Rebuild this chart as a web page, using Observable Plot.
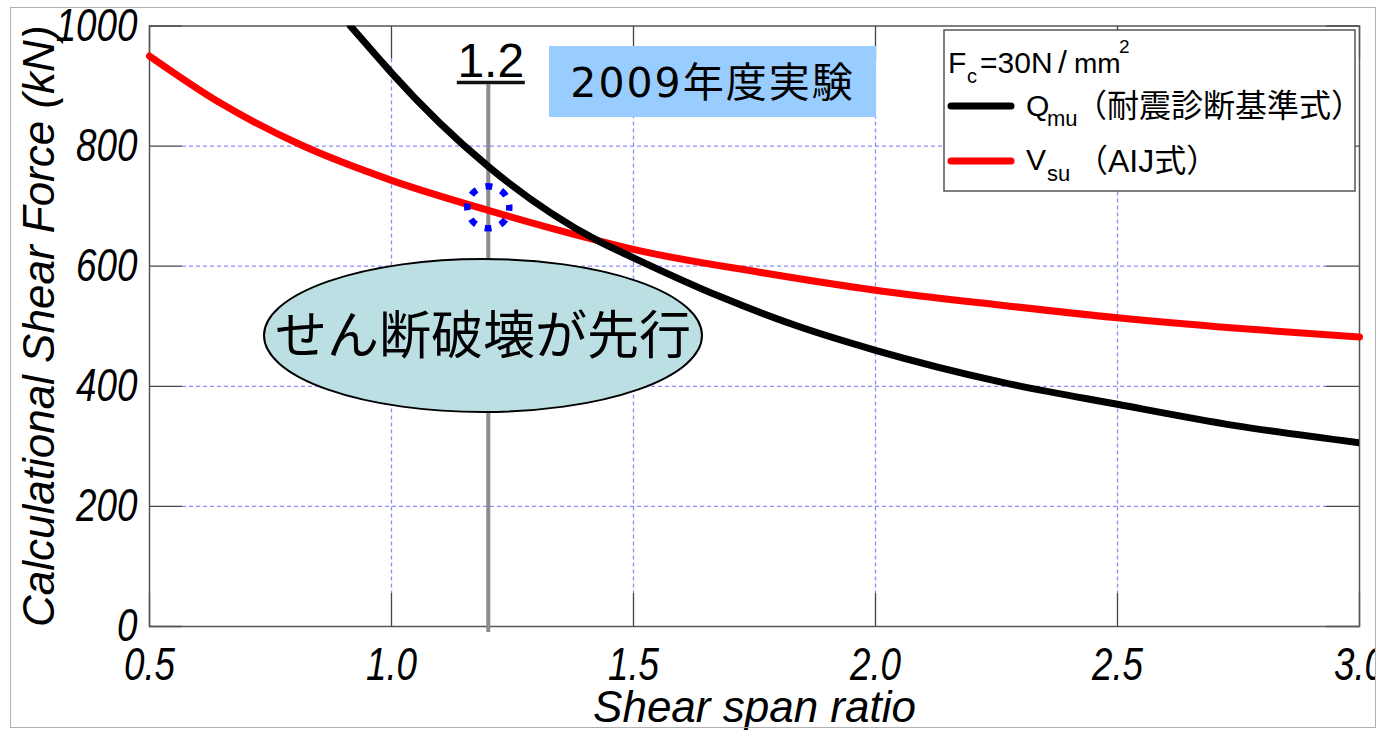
<!DOCTYPE html>
<html><head><meta charset="utf-8">
<script src="https://cdn.jsdelivr.net/npm/d3@7"></script>
<script src="https://cdn.jsdelivr.net/npm/@observablehq/plot@0.6"></script>
<style>
html,body{margin:0;padding:0;background:#fff;}
#wrap{position:relative;width:1384px;height:730px;overflow:hidden;}
</style></head><body><div id="wrap"></div>
<script>
// ---- data ----
const ratioQ = [0.915, 0.977, 1.0, 1.2, 1.425, 1.5, 1.68, 1.84, 2.0, 2.26, 2.5, 2.74, 3.0];
const forceQ = [1000, 943, 922, 766, 643, 614, 549, 500, 460, 407, 370, 335, 306];
const ratioV = [0.5, 0.65, 0.81, 1.0, 1.2, 1.425, 1.5, 1.76, 2.0, 2.26, 2.5, 2.74, 3.0];
const forceV = [950, 870, 803, 743, 693, 643, 628, 590, 560, 535, 514, 497, 482];
const xTicks = [0.5, 1.0, 1.5, 2.0, 2.5, 3.0];
const yTicks = [0, 200, 400, 600, 800, 1000];
const xTitle = "Shear span ratio";
const yTitle = "Calculational Shear Force (kN)";
const testRatio = 1.2;
const testForce = 698;
const testLabel = "1.2";
const boxLabel = "2009年度実験";
const ellipseLabel = "せん断破壊が先行";
const legendHead = ["F", "c", "=30N", "/", "mm", "2"];
const legendQ = ["Q", "mu", "（耐震診断基準式）"];
const legendV = ["V", "su", "（AIJ式）"];

const rowsQ = ratioQ.map((r, i) => ({ratio: r, force: forceQ[i]}));
const rowsV = ratioV.map((r, i) => ({ratio: r, force: forceV[i]}));

const W = 1384, H = 730;
const mL = 149, mR = 25, mT = 25.5, mB = 104;
const pw = W - mL - mR, ph = H - mT - mB;
const tickLen = 33;
const sans = "'Liberation Sans',Arial,sans-serif";
const gridStyle = {stroke: "#8c8cff", strokeWidth: 1.3, strokeDasharray: "4,3"};
const tickStyle = {stroke: "#444", strokeWidth: 1.3};

const chart = Plot.plot({
  width: W, height: H,
  marginLeft: mL, marginRight: mR, marginTop: mT, marginBottom: mB,
  x: {domain: [xTicks[0], xTicks[xTicks.length - 1]]},
  y: {domain: [yTicks[0], yTicks[yTicks.length - 1]]},
  style: {background: "transparent", overflow: "visible", fontFamily: sans},
  marks: [
    Plot.ruleY(yTicks.slice(1, -1), {...gridStyle, insetLeft: tickLen, insetRight: tickLen}),
    Plot.ruleX(xTicks.slice(1, -1), {...gridStyle, insetTop: tickLen, insetBottom: tickLen}),
    Plot.ruleY(yTicks, {...tickStyle, insetRight: pw - tickLen}),
    Plot.ruleY(yTicks, {...tickStyle, insetLeft: pw - tickLen}),
    Plot.ruleX(xTicks, {...tickStyle, insetBottom: ph - tickLen}),
    Plot.ruleX(xTicks, {...tickStyle, insetTop: ph - tickLen}),
    Plot.frame({stroke: "#555", strokeWidth: 1.5}),
    Plot.ruleX([testRatio], {y1: -10, y2: 902, stroke: "#8c8c8c", strokeWidth: 4}),
    Plot.line(rowsV, {x: "ratio", y: "force", stroke: "#ff0000", strokeWidth: 7, curve: "monotone-x"}),
    Plot.line(rowsQ, {x: "ratio", y: "force", stroke: "#000000", strokeWidth: 7, curve: "monotone-x", clip: true}),
    Plot.dot([{ratio: testRatio, force: testForce}], {x: "ratio", y: "force", r: 21, fill: "none", stroke: "#0000ff", strokeWidth: 6.5, strokeDasharray: "7,9.49", strokeDashoffset: 3.5}),
    Plot.axisY(yTicks, {tickSize: 0, tickPadding: 12, tickFormat: d => String(d), fontSize: 46, fontStyle: "italic", fontFamily: sans, label: null}),
    Plot.axisX(xTicks, {tickSize: 0, tickPadding: 21, tickFormat: d => d.toFixed(1), fontSize: 46, fontStyle: "italic", fontFamily: sans, label: null}),
    Plot.text([yTitle], {frameAnchor: "left", textAnchor: "middle", lineAnchor: "middle", dx: -110, rotate: -90, fontSize: 44, fontStyle: "italic", fontFamily: sans, fill: "#000"}),
    Plot.text([xTitle], {frameAnchor: "bottom", textAnchor: "middle", lineAnchor: "middle", dy: 81, fontSize: 44, fontStyle: "italic", fontFamily: sans, fill: "#000"})
  ]
});

// condense the tick labels horizontally (narrow italic numerals as in the reference)
d3.select(chart).selectAll('g[aria-label="y-axis tick label"] text, g[aria-label="x-axis tick label"] text')
  .each(function() {
    const t = this.getAttribute("transform") || "";
    this.setAttribute("transform", t + " scale(0.8,1)");
  });

const wrap = document.getElementById("wrap");
chart.style.position = "absolute"; chart.style.left = "0px"; chart.style.top = "0px";
wrap.appendChild(chart);

const xs = chart.scale("x");
const ov = d3.select(wrap).append("svg")
  .attr("width", W).attr("height", H)
  .style("position", "absolute").style("left", "0px").style("top", "0px");

// label above the test rule
const lx = xs.apply(testRatio) + 3;
ov.append("text").attr("x", lx).attr("y", 77).attr("text-anchor", "middle")
  .attr("font-family", sans).attr("font-size", 48).attr("fill", "#000").text(testLabel);
ov.append("line").attr("x1", lx - 34).attr("x2", lx + 34).attr("y1", 82.5).attr("y2", 82.5)
  .attr("stroke", "#111").attr("stroke-width", 3.5);

// blue box
ov.append("rect").attr("x", 549).attr("y", 46).attr("width", 327).attr("height", 71).attr("fill", "#99ccff");
ov.append("text").attr("x", 712.5).attr("y", 97).attr("text-anchor", "middle")
  .attr("font-family", "'DejaVu Sans','Noto Sans CJK JP',sans-serif").attr("font-size", 41)
  .attr("letter-spacing", 2).attr("fill", "#000").text(boxLabel);

// ellipse
ov.append("ellipse").attr("cx", 483).attr("cy", 335.5).attr("rx", 219).attr("ry", 76.5)
  .attr("fill", "#bbdfe3").attr("stroke", "#000").attr("stroke-width", 2);
ov.append("text").attr("x", 483).attr("y", 354).attr("text-anchor", "middle")
  .attr("font-family", "'Noto Sans CJK JP',sans-serif").attr("font-size", 52).attr("fill", "#000").text(ellipseLabel);

// legend
const lg = ov.append("g");
lg.append("rect").attr("x", 944).attr("y", 30).attr("width", 411).attr("height", 161)
  .attr("fill", "#fff").attr("stroke", "#555").attr("stroke-width", 1.5);
const lf = "'Liberation Sans','Noto Sans CJK JP',sans-serif";
const t1 = lg.append("text").attr("font-family", lf).attr("fill", "#000");
t1.append("tspan").attr("x", 948).attr("y", 73).attr("font-size", 30).text(legendHead[0]);
t1.append("tspan").attr("x", 967).attr("y", 83).attr("font-size", 20).text(legendHead[1]);
t1.append("tspan").attr("x", 980).attr("y", 73).attr("font-size", 30).text(legendHead[2]);
t1.append("tspan").attr("x", 1058).attr("y", 73).attr("font-size", 32).text(legendHead[3]);
t1.append("tspan").attr("x", 1074).attr("y", 73).attr("font-size", 28).text(legendHead[4]);
t1.append("tspan").attr("x", 1119).attr("y", 53).attr("font-size", 19).text(legendHead[5]);

lg.append("line").attr("x1", 951).attr("x2", 1011).attr("y1", 106).attr("y2", 106)
  .attr("stroke", "#000").attr("stroke-width", 7).attr("stroke-linecap", "round");
const t2 = lg.append("text").attr("font-family", lf).attr("fill", "#000");
t2.append("tspan").attr("x", 1026).attr("y", 116).attr("font-size", 30).text(legendQ[0]);
t2.append("tspan").attr("x", 1047).attr("y", 126).attr("font-size", 22).text(legendQ[1]);
t2.append("tspan").attr("x", 1075).attr("y", 117).attr("font-size", 32).text(legendQ[2]);

lg.append("line").attr("x1", 951).attr("x2", 1011).attr("y1", 161).attr("y2", 161)
  .attr("stroke", "#ff0000").attr("stroke-width", 7).attr("stroke-linecap", "round");
const t3 = lg.append("text").attr("font-family", lf).attr("fill", "#000");
t3.append("tspan").attr("x", 1026).attr("y", 170).attr("font-size", 30).text(legendV[0]);
t3.append("tspan").attr("x", 1047).attr("y", 181).attr("font-size", 22).text(legendV[1]);
t3.append("tspan").attr("x", 1076).attr("y", 172).attr("font-size", 32).text(legendV[2]);

// outer picture border
ov.append("rect").attr("x", 1376).attr("y", 0).attr("width", 8).attr("height", H).attr("fill", "#fff");
ov.append("rect").attr("x", 10.5).attr("y", 7.5).attr("width", 1365).attr("height", 720)
  .attr("fill", "none").attr("stroke", "#b0b0b0").attr("stroke-width", 1);
</script>
</body></html>
